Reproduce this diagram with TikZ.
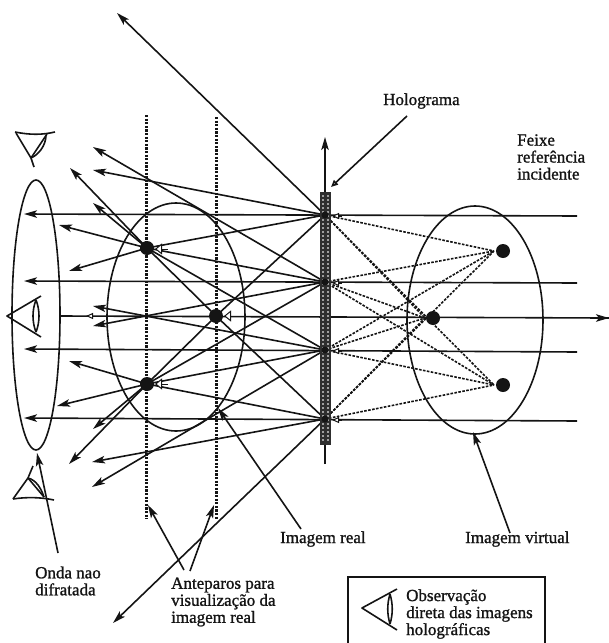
\documentclass[tikz,border=0pt]{standalone}
\usepackage{fontspec}
\setmainfont[FakeBold=1.2]{Liberation Serif}
\usetikzlibrary{arrows.meta}
\definecolor{inkcolor}{HTML}{141414}
\definecolor{barcolor}{HTML}{2E2E2E}

\begin{document}
\begin{tikzpicture}[
		x=1pt, y=-1pt,
		line/.style={inkcolor, line width=1.6pt},
		ray/.style={inkcolor, line width=1.6pt, -{Stealth[length=13pt, width=7.5pt, inset=3pt]}},
		beam/.style={inkcolor, line width=1.6pt},
		vray/.style={inkcolor, line width=1.6pt, dash pattern=on 2.6pt off 1.4pt},
		screenline/.style={inkcolor, line width=3pt, dash pattern=on 2.2pt off 1.4pt},
		mini/.style={inkcolor, line width=1pt, -{Triangle[open, length=7pt, width=11pt, fill=white]}},
		small/.style={inkcolor, line width=1pt, -{Triangle[open, length=7pt, width=6pt, fill=white]}},
		dot/.style={circle, fill=inkcolor, minimum size=14pt, inner sep=0pt},
		hdot/.style={circle, fill=inkcolor, minimum size=7pt, inner sep=0pt},
		label/.style={inkcolor, inner sep=0pt, align=left, font=\fontsize{17}{17}\selectfont},
		eyeline/.style={inkcolor, line width=1.6pt, line join=round}
		]
		\useasboundingbox (0,0) rectangle (609,643);
		
		% pontos do holograma
		\coordinate (H1) at (325, 215);
		\coordinate (H2) at (325, 282);
		\coordinate (H3) at (325, 350);
		\coordinate (H4) at (325, 419);
		
		% elipses
		\draw[line] (36, 315) ellipse (24 and 135);
		\draw[line] (176, 317) ellipse (69 and 114);
		\draw[line] (475, 320) ellipse (68 and 114);
		
		% anteparos
		\coordinate (S1) at (146, 115);
		\coordinate (S2) at (146, 519);
		\coordinate (S3) at (216, 117);
		\coordinate (S4) at (216, 519);
		\draw[screenline] (S1) -- (S2);
		\draw[screenline] (S3) -- (S4);
		
		% imagens
		\node[dot] (R1) at (147, 248) {};
		\node[dot] (R2) at (216, 316) {};
		\node[dot] (R3) at (147, 384) {};
		\node[dot] (V1) at (503, 251) {};
		\node[dot] (V2) at (433, 318) {};
		\node[dot] (V3) at (503, 385) {};
		\coordinate (VA) at (494, 251);
		\coordinate (VB) at (425, 318);
		\coordinate (VC) at (494, 385);
		
		% pontas dos raios
		\coordinate (T1) at (117, 13);
		\coordinate (T2) at (93, 147);
		\coordinate (T3) at (93, 170);
		\coordinate (T4) at (70, 168);
		\coordinate (T5) at (93, 203);
		\coordinate (T6) at (59, 225);
		\coordinate (T7) at (69, 271);
		\coordinate (T8) at (93, 306);
		\coordinate (T9) at (93, 326);
		\coordinate (T10) at (69, 361);
		\coordinate (T11) at (57, 406);
		\coordinate (T12) at (93, 429);
		\coordinate (T13) at (69, 464);
		\coordinate (T14) at (92, 462);
		\coordinate (T15) at (92, 487);
		\coordinate (T16) at (113, 623);
		
		% feixes horizontais
		\coordinate (E1) at (577, 216);
		\coordinate (E2) at (577, 283);
		\coordinate (E3) at (609, 318);
		\coordinate (E4) at (577, 352);
		\coordinate (E5) at (577, 421);
		\coordinate (W1) at (24, 214);
		\coordinate (W2) at (24, 281);
		\coordinate (W3) at (60, 316);
		\coordinate (W4) at (24, 349);
		\coordinate (W5) at (24, 418);
		\draw[ray] (E1) -- (W1);
		\draw[ray] (E2) -- (W2);
		\draw[beam] (E3) -- (W3);
		\draw[ray] (E4) -- (W4);
		\draw[ray] (E5) -- (W5);
		\coordinate (A1) at (590, 318);
		\draw[ray] (A1) -- (E3);
		\coordinate (A2) at (97, 316);
		\coordinate (A3) at (86, 316);
		\draw[small] (A2) -- (A3);
		
		% raios reais
		\draw[ray] (H1) -- (T1);
		\draw[ray] (H2) -- (T2);
		\draw[ray] (H1) -- (T3);
		\draw[ray] (H4) -- (R2.center) -- (R1.center) -- (T4);
		\draw[ray] (H3) -- (R1.center) -- (T5);
		\draw[ray] (H2) -- (R1.center) -- (T6);
		\draw[ray] (H1) -- (R1.center) -- (T7);
		\draw[ray] (H3) -- (T8);
		\draw[ray] (H2) -- (T9);
		\draw[ray] (H4) -- (R3.center) -- (T10);
		\draw[ray] (H3) -- (R3.center) -- (T11);
		\draw[ray] (H2) -- (R3.center) -- (T12);
		\draw[ray] (H1) -- (R2.center) -- (R3.center) -- (T13);
		\draw[ray] (H4) -- (T14);
		\draw[ray] (H3) -- (T15);
		\draw[ray] (H4) -- (T16);
		
		% raios virtuais
		\draw[vray] (H1) -- (VA);
		\draw[vray] (H2) -- (VA);
		\draw[vray] (H3) -- (VA);
		\draw[vray] (H4) -- (VA);
		\draw[vray] (H1) -- (VB);
		\draw[vray] (H2) -- (VB);
		\draw[vray] (H3) -- (VB);
		\draw[vray] (H4) -- (VB);
		\draw[vray] (H1) -- (VC);
		\draw[vray] (H2) -- (VC);
		\draw[vray] (H3) -- (VC);
		\draw[vray] (H4) -- (VC);
		
		% holograma
		\coordinate (Y1) at (325, 137);
		\coordinate (Y2) at (325, 464);
		\draw[ray] (Y2) -- (Y1);
		\fill[barcolor] (320, 192) rectangle (331, 445);
		\coordinate (B1) at (323, 195);
		\coordinate (B2) at (323, 442);
		\coordinate (B3) at (328, 195);
		\coordinate (B4) at (328, 442);
		\draw[gray!75, line width=2pt, dash pattern=on 1.5pt off 2.5pt] (B1) -- (B2);
		\draw[gray!75, line width=2pt, dash pattern=on 1.5pt off 2.5pt] (B3) -- (B4);
		\node[hdot] at (H1) {};
		\node[hdot] at (H2) {};
		\node[hdot] at (H3) {};
		\node[hdot] at (H4) {};
		
		% pontas abertas
		\coordinate (M1) at (168, 249);
		\coordinate (M2) at (155, 249);
		\coordinate (M3) at (237, 316);
		\coordinate (M4) at (224, 316);
		\coordinate (M5) at (168, 384);
		\coordinate (M6) at (155, 384);
		\coordinate (N1) at (342, 216);
		\coordinate (N2) at (332, 216);
		\coordinate (N3) at (342, 283);
		\coordinate (N4) at (332, 283);
		\coordinate (N5) at (342, 351);
		\coordinate (N6) at (332, 351);
		\coordinate (N7) at (342, 420);
		\coordinate (N8) at (332, 420);
		\draw[mini] (M1) -- (M2);
		\draw[mini] (M3) -- (M4);
		\draw[mini] (M5) -- (M6);
		\draw[small] (N1) -- (N2);
		\draw[small] (N3) -- (N4);
		\draw[small] (N5) -- (N6);
		\draw[small] (N7) -- (N8);
		
		% olhos
		\draw[eyeline] (41, 296) -- (7, 316) -- (41, 337);
		\draw[eyeline] (36, 300) .. controls (32, 310) and (32, 322) .. (36, 332);
		\draw[eyeline] (36, 300) .. controls (40, 310) and (40, 322) .. (36, 332);
		\draw[eyeline] (15, 132) .. controls (30, 135) and (42, 135) .. (55, 132);
		\draw[eyeline] (16, 133) -- (31, 158) -- (34, 167);
		\draw[eyeline] (47, 134) -- (31, 158);
		\draw[eyeline] (46, 135) .. controls (46, 146) and (38, 155) .. (31, 158);
		\draw[eyeline] (13, 499) .. controls (26, 497) and (40, 497) .. (54, 500);
		\draw[eyeline] (13, 499) -- (28, 478) -- (33, 466);
		\draw[eyeline] (28, 478) -- (44, 497);
		\draw[eyeline] (28, 478) .. controls (36, 480) and (41, 488) .. (44, 497);
		
		% textos
		\node[label, anchor=west] (holo) at (383, 101) {Holograma};
		\node[label, anchor=west] (feixe) at (517, 157) {Feixe\\referência\\incidente};
		\node[label, anchor=west] (real) at (280, 539) {Imagem real};
		\node[label, anchor=west] (virt) at (465, 539) {Imagem virtual};
		\node[label, anchor=west] (onda) at (35, 581) {Onda nao\\difratada};
		\node[label, anchor=west] (ante) at (171, 602) {Anteparos para\\visualização da\\imagem real};
		\node[label, anchor=west] (obs) at (406, 614) {Observação\\direta das imagens\\holográficas};
		
		% setas das legendas
		\coordinate (L1) at (407, 116);
		\coordinate (L2) at (331, 187);
		\coordinate (L3) at (58, 553);
		\coordinate (L4) at (37, 453);
		\coordinate (L5) at (184, 570);
		\coordinate (L6) at (148, 505);
		\coordinate (L7) at (190, 571);
		\coordinate (L8) at (214, 505);
		\coordinate (L9) at (301, 529);
		\coordinate (L10) at (218, 408);
		\coordinate (L11) at (510, 533);
		\coordinate (L12) at (473, 432);
		\draw[inkcolor, line width=1.6pt, -{Triangle[open, length=7pt, width=6pt, fill=white]}] (L1) -- (L2);
		\draw[ray] (L3) -- (L4);
		\draw[ray] (L5) -- (L6);
		\draw[ray] (L7) -- (L8);
		\draw[ray] (L9) -- (L10);
		\draw[ray] (L11) -- (L12);
		
		% caixa
		\draw[line] (348, 650) -- (348, 577) -- (545, 577) -- (545, 650);
		\draw[eyeline] (397, 589) -- (362, 608) -- (397, 630);
		\draw[eyeline] (390, 594) .. controls (387, 604) and (387, 614) .. (390, 624);
		\draw[eyeline] (390, 594) .. controls (393, 604) and (393, 614) .. (390, 624);
		
	\end{tikzpicture}
\end{document}
